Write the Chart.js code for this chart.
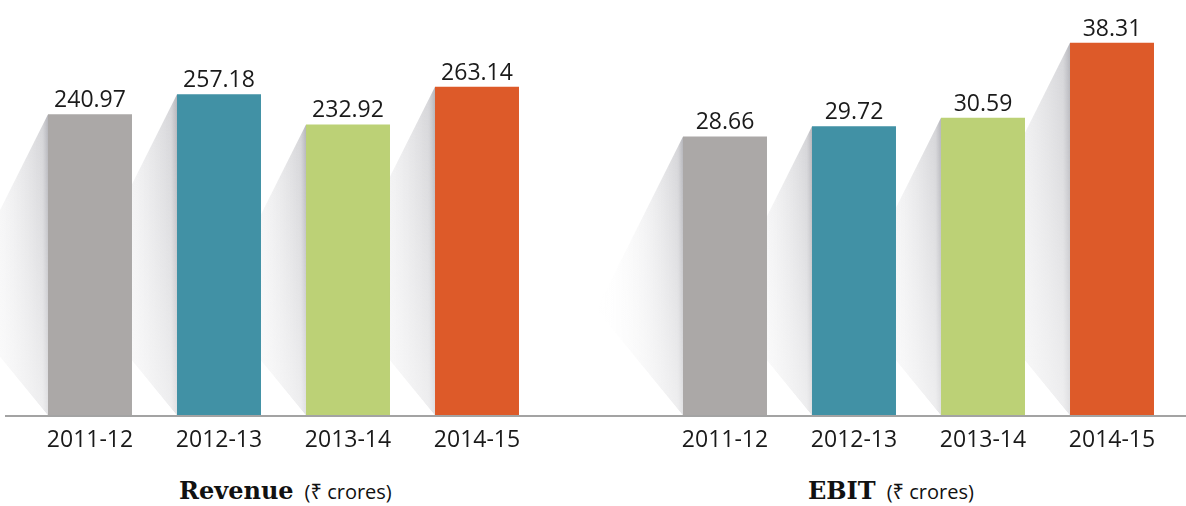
<!DOCTYPE html>
<html>
<head>
<meta charset="utf-8">
<script src="https://cdn.jsdelivr.net/npm/chart.js@4.4.1/dist/chart.umd.min.js"></script>
<style>
    html, body { margin: 0; padding: 0; background: #fff; }
    #wrap { position: relative; width: 1186px; height: 506px; overflow: hidden; }
    .box { position: absolute; top: 0; width: 593px; height: 460px; }
    .title { position: absolute; top: 476px; white-space: nowrap; color: #111; line-height: 30px; }
    .title .main { font-family: "DejaVu Serif", serif; font-size: 24px; font-weight: bold; margin-right: 7px; }
    .title .unit { font-family: "Open Sans", "Noto Sans", sans-serif; font-size: 20px; }
</style>
</head>
<body>
<div id="wrap">
    <div class="box" style="left:0"><canvas id="revenueCanvas"></canvas></div>
    <div class="box" style="left:593px"><canvas id="ebitCanvas"></canvas></div>
    <div class="title" style="left:179px"><span class="main">Revenue</span> <span class="unit">(₹ crores)</span></div>
    <div class="title" style="left:808px"><span class="main">EBIT</span> <span class="unit">(₹ crores)</span></div>
</div>
<script>
// Data
const years = ['2011-12', '2012-13', '2013-14', '2014-15'];
const revenue = [240.97, 257.18, 232.92, 263.14];
const ebit = [28.66, 29.72, 30.59, 38.31];
const barColors = ['#aba8a7', '#4191a5', '#bcd176', '#dd5a29'];

// Perspective shadow to the left of every bar
const shadowPlugin = {
    id: 'barShadow',
    beforeDatasetsDraw(chart) {
        const ctx = chart.ctx;
        const meta = chart.getDatasetMeta(0);
        meta.data.forEach(bar => {
            const x0 = bar.x - bar.width / 2;
            const top = bar.y;
            const base = bar.base;
            const d = (base - top) / 3.22;
            const ax = x0 - d;
            const ay = top + 2 * d;

            ctx.save();
            ctx.beginPath();
            ctx.moveTo(x0, top);
            ctx.lineTo(ax, ay);
            ctx.lineTo(x0, base);
            ctx.closePath();
            ctx.clip();

            const g = ctx.createLinearGradient(x0, 0, ax, 0);
            g.addColorStop(0, 'rgba(120,120,130,0.55)');
            g.addColorStop(0.06, 'rgba(150,150,158,0.4)');
            g.addColorStop(0.45, 'rgba(195,195,200,0.22)');
            g.addColorStop(1, 'rgba(255,255,255,0)');
            ctx.fillStyle = g;
            ctx.fillRect(ax, top, d, base - top);

            // lighten towards the floor
            const v = ctx.createLinearGradient(0, top, 0, base);
            v.addColorStop(0, 'rgba(255,255,255,0)');
            v.addColorStop(1, 'rgba(255,255,255,0.6)');
            ctx.fillStyle = v;
            ctx.fillRect(ax, top, d, base - top);
            ctx.restore();
        });
    },
    afterDatasetsDraw(chart, args, opts) {
        const ctx = chart.ctx;
        const area = chart.chartArea;
        // baseline across the whole canvas
        ctx.save();
        ctx.strokeStyle = '#a3a3a3';
        ctx.lineWidth = 2;
        ctx.beginPath();
        ctx.moveTo(opts.lineFrom || 0, area.bottom + 1);
        ctx.lineTo(chart.width, area.bottom + 1);
        ctx.stroke();

        // value labels
        const meta = chart.getDatasetMeta(0);
        const values = chart.data.datasets[0].data;
        ctx.fillStyle = '#1a1a1a';
        ctx.font = '23px "Open Sans", sans-serif';
        ctx.textAlign = 'center';
        ctx.textBaseline = 'alphabetic';
        meta.data.forEach((bar, i) => {
            ctx.fillText(values[i].toFixed(2), bar.x, bar.y - 7);
        });
        ctx.restore();
    }
};

function makeChart(canvasId, values, yMax, padLeft, padRight, lineFrom) {
    return new Chart(document.getElementById(canvasId), {
        type: 'bar',
        data: {
            labels: years,
            datasets: [{
                data: values,
                backgroundColor: barColors,
                borderWidth: 0,
                barPercentage: 0.651,
                categoryPercentage: 1
            }]
        },
        options: {
            responsive: true,
            maintainAspectRatio: false,
            animation: false,
            layout: { padding: { top: 15, bottom: 0, left: padLeft, right: padRight } },
            plugins: {
                legend: { display: false },
                tooltip: { enabled: false },
                barShadow: { lineFrom: lineFrom }
            },
            scales: {
                x: {
                    grid: { display: false, drawTicks: false },
                    border: { display: false },
                    ticks: {
                        color: '#1a1a1a',
                        padding: 12,
                        font: { family: '"Open Sans", sans-serif', size: 23 }
                    },
                    afterFit(scale) { scale.height = 45; }
                },
                y: { display: false, min: 0, max: yMax }
            }
        },
        plugins: [shadowPlugin]
    });
}

makeChart('revenueCanvas', revenue, 320.6, 25.5, 51.5, 5);
makeChart('ebitCanvas', ebit, 41.16, 67.5, 9.5, 0);
</script>
</body>
</html>
